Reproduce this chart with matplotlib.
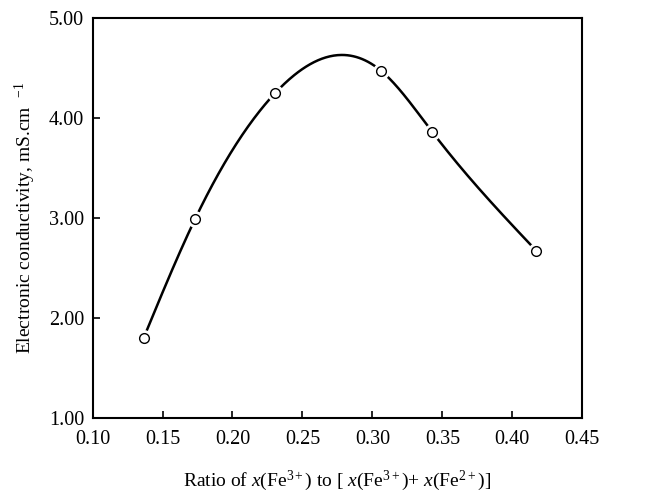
import numpy as np
import matplotlib

matplotlib.use("Agg")
import matplotlib.pyplot as plt

# values
ratio = [0.1365, 0.1733, 0.2306, 0.3063, 0.3428, 0.4173]
conductivity = [1.80, 2.99, 4.25, 4.47, 3.86, 2.67]

x_ticks = [0.10, 0.15, 0.20, 0.25, 0.30, 0.35, 0.40, 0.45]
y_ticks = [1.00, 2.00, 3.00, 4.00, 5.00]


def natural_spline(xs, ys, xq):
    """Natural cubic spline through the measured points (smooth guide line only)."""
    xs = np.asarray(xs, float)
    ys = np.asarray(ys, float)
    n = len(xs)
    h = np.diff(xs)
    a = np.zeros((n, n))
    b = np.zeros(n)
    a[0, 0] = a[-1, -1] = 1.0
    for i in range(1, n - 1):
        a[i, i - 1] = h[i - 1]
        a[i, i] = 2 * (h[i - 1] + h[i])
        a[i, i + 1] = h[i]
        b[i] = 3 * ((ys[i + 1] - ys[i]) / h[i] - (ys[i] - ys[i - 1]) / h[i - 1])
    c = np.linalg.solve(a, b)
    idx = np.clip(np.searchsorted(xs, xq) - 1, 0, n - 2)
    dx = xq - xs[idx]
    hi = h[idx]
    bb = (ys[idx + 1] - ys[idx]) / hi - hi * (2 * c[idx] + c[idx + 1]) / 3
    dd = (c[idx + 1] - c[idx]) / (3 * hi)
    return ys[idx] + bb * dx + c[idx] * dx**2 + dd * dx**3


plt.rcParams["font.family"] = ["Liberation Serif", "DejaVu Serif"]
plt.rcParams["mathtext.fontset"] = "custom"
plt.rcParams["mathtext.rm"] = "Liberation Serif"
plt.rcParams["mathtext.it"] = "Liberation Serif:italic"

fig = plt.figure(figsize=(6.52, 4.97), dpi=100)
ax = fig.add_axes([0.142, 0.159, 0.751, 0.805])

xs = np.linspace(ratio[0], ratio[-1], 400)
ax.plot(xs, natural_spline(ratio, conductivity, xs), color="black", lw=1.8, zorder=2)
ax.plot(ratio, conductivity, ls="none", marker="o", ms=11, mfc="white", mec="white", zorder=3)
ax.plot(ratio, conductivity, ls="none", marker="o", ms=7, mfc="white", mec="black",
        mew=1.0, zorder=4)

ax.set_xlim(0.10, 0.45)
ax.set_ylim(1.00, 5.00)
ax.set_xticks(x_ticks)
ax.set_xticklabels([f"{v:.2f}" for v in x_ticks])
ax.set_yticks(y_ticks)
ax.set_yticklabels([f"{v:.2f}" for v in y_ticks])
ax.tick_params(direction="in", length=5, width=1.2, labelsize=14.5,
               top=False, right=False)
ax.tick_params(axis="x", pad=9)
ax.tick_params(axis="y", pad=6)
for s in ax.spines.values():
    s.set_linewidth(1.5)

ax.set_xlabel(r"Ratio of $\mathit{x}$(Fe$^{3+}$) to [ $\mathit{x}$(Fe$^{3+}$)+ $\mathit{x}$(Fe$^{2+}$)]",
              fontsize=14, labelpad=14)
ax.set_ylabel(r"Electronic conductivity, mS.cm  $^{-1}$", fontsize=14, labelpad=8)

fig.savefig("out.png", dpi=100)
